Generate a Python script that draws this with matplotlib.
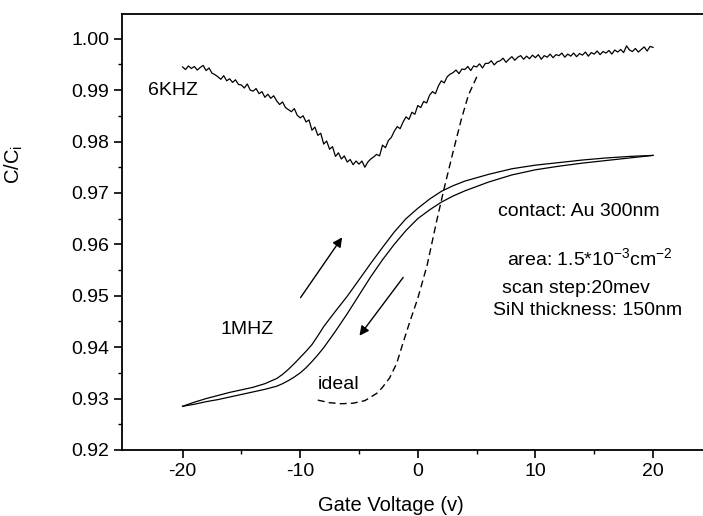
import matplotlib
matplotlib.use('Agg')
import matplotlib.pyplot as plt
import numpy as np

plt.rcParams['font.family'] = ['Liberation Sans', 'DejaVu Sans']
plt.rcParams['mathtext.fontset'] = 'custom'
plt.rcParams['mathtext.rm'] = 'Liberation Sans'
plt.rcParams['axes.unicode_minus'] = False

# 6 kHz curve, gate voltage -20..20 V in 0.25 V steps
v_6k = np.linspace(-20, 20, 161)
c_6k = [
    0.9945, 0.9940, 0.9947, 0.9942,
    0.9946, 0.9939, 0.9944, 0.9948,
    0.9938, 0.9943, 0.9933, 0.9930,
    0.9926, 0.9921, 0.9928, 0.9918,
    0.9922, 0.9915, 0.9920, 0.9911,
    0.9910, 0.9904, 0.9912, 0.9900,
    0.9898, 0.9903, 0.9893, 0.9897,
    0.9886, 0.9892, 0.9884, 0.9889,
    0.9879, 0.9872, 0.9877, 0.9866,
    0.9862, 0.9858, 0.9864, 0.9851,
    0.9846, 0.9850, 0.9838, 0.9842,
    0.9822, 0.9828, 0.9812, 0.9816,
    0.9795, 0.9801, 0.9785, 0.9790,
    0.9771, 0.9778, 0.9766, 0.9772,
    0.9760, 0.9765, 0.9755, 0.9762,
    0.9756, 0.9762, 0.9750, 0.9760,
    0.9766, 0.9770, 0.9775, 0.9772,
    0.9793, 0.9788, 0.9802, 0.9808,
    0.9820, 0.9829, 0.9825, 0.9838,
    0.9848, 0.9843, 0.9857, 0.9853,
    0.9870, 0.9866, 0.9878, 0.9875,
    0.9890, 0.9897, 0.9893, 0.9908,
    0.9918, 0.9914, 0.9926, 0.9931,
    0.9934, 0.9939, 0.9932, 0.9941,
    0.9940, 0.9946, 0.9938, 0.9947,
    0.9945, 0.9951, 0.9943, 0.9952,
    0.9952, 0.9957, 0.9949, 0.9955,
    0.9957, 0.9962, 0.9954, 0.9960,
    0.9965, 0.9958, 0.9964, 0.9967,
    0.9960, 0.9966, 0.9961, 0.9968,
    0.9963, 0.9969, 0.9960, 0.9967,
    0.9964, 0.9970, 0.9963, 0.9969,
    0.9967, 0.9972, 0.9964, 0.9970,
    0.9966, 0.9972, 0.9965, 0.9971,
    0.9968, 0.9974, 0.9966, 0.9973,
    0.9970, 0.9976, 0.9969, 0.9975,
    0.9972, 0.9977, 0.9970, 0.9978,
    0.9974, 0.9979, 0.9973, 0.9986,
    0.9978, 0.9975, 0.9981, 0.9974,
    0.9979, 0.9984, 0.9976, 0.9985,
    0.9983,
]

# 1 MHz hysteresis loop
v_1m = [-20, -19, -18, -17, -16, -15, -14, -13, -12, -11.5, -11, -10.5, -10,
        -9.5, -9, -8.5, -8, -7, -6, -5, -4, -3, -2, -1, 0, 1, 2, 3, 4, 6, 8,
        10, 12, 14, 16, 18, 20]
c_1m_up = [0.9285, 0.9293, 0.9300, 0.9306, 0.9312, 0.9317, 0.9322, 0.9329,
           0.9339, 0.9347, 0.9357, 0.9368, 0.9380, 0.9392, 0.9405, 0.9422,
           0.9440, 0.9470, 0.9499, 0.9531, 0.9563, 0.9594, 0.9624, 0.9650,
           0.9670, 0.9688, 0.9703, 0.9714, 0.9723, 0.9736, 0.9747, 0.9754,
           0.9759, 0.9764, 0.9768, 0.9771, 0.9773]
c_1m_down = [0.9285, 0.9289, 0.9294, 0.9298, 0.9303, 0.9308, 0.9313, 0.9318,
             0.9324, 0.9329, 0.9335, 0.9342, 0.9350, 0.9360, 0.9372, 0.9385,
             0.9399, 0.9431, 0.9465, 0.9501, 0.9537, 0.9570, 0.9600, 0.9627,
             0.9650, 0.9667, 0.9682, 0.9694, 0.9704, 0.9721, 0.9735, 0.9745,
             0.9752, 0.9758, 0.9763, 0.9768, 0.9773]

# ideal C-V curve
v_ideal = [-8.5, -7.5, -6.5, -5.5, -4.5, -3.5, -3.0, -2.4, -1.8, -1.3, -0.7,
           0.0, 0.8, 1.6, 2.2, 3.0, 3.7, 4.3, 4.8, 5.1]
c_ideal = [0.9297, 0.9292, 0.9290, 0.9291, 0.9296, 0.9310, 0.9322, 0.9340,
           0.9368, 0.9405, 0.9448, 0.9495, 0.9560, 0.9645, 0.9705, 0.9780,
           0.9843, 0.9890, 0.9915, 0.9930]

fig = plt.figure(figsize=(7.03, 5.16), dpi=100)
ax = fig.add_axes([122/703, 66/516, 581/703, 436/516])

ax.plot(v_6k, c_6k, color='black', lw=0.9)
ax.plot(v_1m, c_1m_up, color='black', lw=0.9)
ax.plot(v_1m, c_1m_down, color='black', lw=0.9)
ax.plot(v_ideal, c_ideal, color='black', lw=1.0, linestyle=(0, (5, 3)))

# sweep direction arrows
ax.annotate('', xy=(-6.3, 0.9618), xytext=(-10.1, 0.9492),
            arrowprops=dict(arrowstyle='-|>', color='black', lw=1.0, mutation_scale=14))
ax.annotate('', xy=(-5.1, 0.9418), xytext=(-1.1, 0.9540),
            arrowprops=dict(arrowstyle='-|>', color='black', lw=1.0, mutation_scale=14))

fs = 14
ax.text(-22.9, 0.9900, '6KHZ', fontsize=fs, va='center', ha='left')
ax.text(-16.8, 0.9434, '1MHZ', fontsize=fs, va='center', ha='left')
ax.text(-8.5, 0.9328, 'ideal', fontsize=fs, va='center', ha='left')
ax.text(6.8, 0.9663, 'contact: Au 300nm', fontsize=fs, va='center', ha='left')
ax.text(7.6, 0.9572, r'area: 1.5*10$^{-3}$cm$^{-2}$', fontsize=fs, va='center', ha='left')
ax.text(7.2, 0.9515, 'scan step:20mev', fontsize=fs, va='center', ha='left')
ax.text(6.4, 0.9472, 'SiN thickness: 150nm', fontsize=fs, va='center', ha='left')

ax.set_xlim(-25.15, 24.25)
ax.set_ylim(0.92, 1.0048)
ax.set_xticks([-20, -10, 0, 10, 20])
ax.set_xticks([-15, -5, 5, 15], minor=True)
ax.set_yticks(np.arange(0.92, 1.001, 0.01))
ax.set_yticks(np.arange(0.925, 1.0, 0.01), minor=True)
ax.set_yticklabels(['%.2f' % t for t in np.arange(0.92, 1.001, 0.01)])
ax.tick_params(which='major', direction='out', length=6, width=1.2, labelsize=fs, pad=3)
ax.tick_params(which='minor', direction='out', length=3, width=1.0)

ax.spines['right'].set_visible(False)
for s in ['left', 'bottom', 'top']:
    ax.spines[s].set_linewidth(1.3)

ax.set_xlabel('Gate Voltage (v)', fontsize=14.5)
ax.set_ylabel(r'C/C$_\mathregular{i}$', fontsize=14.5)
ax.xaxis.set_label_coords(0.463, -0.105)
ax.yaxis.set_label_coords(-0.167, 0.654)

plt.savefig('out.png', dpi=100)
